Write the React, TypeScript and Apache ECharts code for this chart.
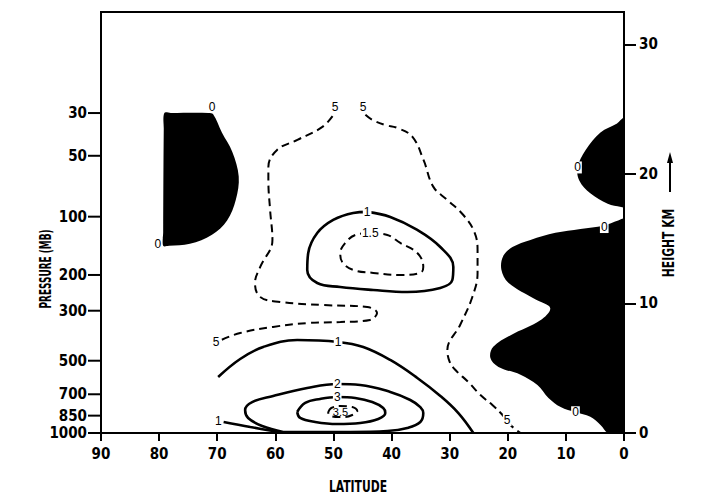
import React, { useEffect, useRef } from 'react';
import * as echarts from 'echarts';

// ---------- axis data ----------
const pressureLabels = ['30', '50', '100', '200', '300', '500', '700', '850', '1000'];
const pressureHeightsKm = [24.7, 21.4, 16.7, 12.2, 9.44, 5.58, 2.99, 1.34, 0];
const heightTicksKm = [0, 10, 20, 30];

// ---------- shaded (negative) regions: [latitude, height km] ----------
const shadeNorthStrat: number[][] = [
  [79.1, 24.7], [78.0, 24.7], [71.5, 24.7], [70.7, 24.6], [69.2, 23.2], [67.4, 21.7],
  [66.3, 19.8], [66.8, 18.0], [68.3, 16.4], [70.9, 15.3], [74.7, 14.6], [78.3, 14.45],
  [79.3, 14.45], [79.3, 15.5], [79.2, 23.5],
];
const shadeTropicStrat: number[][] = [
  [0, 24.3], [1.2, 23.9], [4.05, 23.2], [6.6, 21.85], [8.0, 20.5], [7.7, 19.5],
  [5.8, 18.5], [2.8, 17.7], [0.5, 17.45], [0, 17.45], [0, 21],
];
const shadeTropicTrop: number[][] = [
  [0, 16.5], [1.0, 16.4], [3.5, 16.0], [7.5, 15.75], [11.8, 15.45], [16.1, 14.9],
  [19.2, 14.35], [20.8, 13.65], [21.1, 12.6], [19.9, 11.6], [15.2, 10.3], [12.7, 9.65],
  [14.4, 8.7], [19.5, 7.55], [22.5, 6.65], [23.0, 5.8], [21.6, 5.1], [17.8, 4.5], [14.9, 3.7],
  [13.0, 2.7], [10.9, 2.0], [8.35, 1.6], [5.8, 1.25], [4.0, 0.6], [2.8, 0], [1.5, 0],
  [0, 0], [0, 8],
];

// ---------- contour lines: [latitude, height km] ----------
const contourHalfWest: number[][] = [
  [69.2, 7.2], [66.05, 7.72], [60.4, 8.19], [54.5, 8.49], [48.8, 8.57], [43.7, 8.73],
  [42.5, 9.27], [44.2, 9.73], [51.8, 9.88], [59.2, 10.12], [62.6, 10.5], [63.5, 11.58],
  [62.6, 12.82], [60.5, 14.9], [60.9, 17.22], [61.2, 19.5], [61.2, 20.54], [59.7, 21.85],
  [56.2, 22.63], [51.9, 23.63], [50.0, 24.56],
];
const contourHalfEast: number[][] = [
  [44.5, 24.56], [43.3, 24.17], [41.1, 23.78], [39.0, 23.55], [36.4, 22.86], [34.5, 21.08],
  [32.8, 19.0], [30.4, 17.99], [27.65, 16.83], [25.75, 15.52], [25.2, 14.13], [25.2, 12.36],
  [26.1, 10.5], [28.2, 8.34], [30.4, 6.41], [30.0, 5.5], [29.0, 4.86], [26.8, 3.94],
  [24.7, 2.93], [22.65, 2.16], [20.9, 1.39], [19.5, 0.6], [17.8, 0],
];
const contourOneUpper: number[][] = [
  [44.18, 17.07], [40.22, 16.68], [35.57, 15.68], [31.61, 14.36], [29.37, 12.82],
  [29.54, 11.81], [31.61, 11.2], [37.29, 10.89], [43.15, 11.04], [48.83, 11.27],
  [52.79, 11.58], [54.51, 12.59], [54.34, 13.9], [52.79, 15.44], [50.04, 16.45],
  [46.6, 16.99], [44.18, 17.07],
];
const contourOneFive: number[][] = [
  [43.66, 15.44], [40.73, 15.29], [38.5, 14.67], [35.57, 13.9], [34.54, 12.82], [35.05, 12.36],
  [38.5, 12.2], [43.15, 12.36], [46.6, 12.59], [48.49, 13.2], [48.83, 13.9], [47.97, 14.67],
  [46.24, 15.29], [43.66, 15.44],
];
const contourOneLower: number[][] = [
  [69.84, 4.32], [66.05, 5.71], [62.09, 6.64], [56.24, 7.18], [49.17, 7.03], [44.87, 6.64],
  [40.22, 5.64], [35.57, 4.25], [31.6, 2.86], [28.5, 1.54], [25.92, 0],
];
const contourOneSurface: number[][] = [
  [68.9, 0.85], [64.3, 0.46], [58.65, 0.02],
];
const contourTwo: number[][] = [
  [58.65, 0.08], [62.27, 0.54], [64.68, 1.16], [65.2, 1.78], [63.99, 2.39], [60.37, 2.86],
  [54.51, 3.47], [49.35, 3.78], [45.39, 3.71], [40.22, 3.17], [36.78, 2.55], [35.05, 2.0],
  [34.54, 1.54], [35.05, 0.85], [37.29, 0.39], [40.73, 0.15], [47.1, 0.08], [53.99, 0.08],
  [58.65, 0.08],
];
const contourThree: number[][] = [
  [56.24, 1.62], [54.86, 2.32], [52.28, 2.63], [49.35, 2.78], [46.25, 2.70], [43.32, 2.39],
  [41.43, 1.93], [41.08, 1.54], [42.29, 1.08], [45.39, 0.77], [49.35, 0.69], [53.14, 0.85],
  [55.72, 1.16], [56.24, 1.62],
];
const contourThreeFive: number[][] = [
  [50.9, 1.62], [50.38, 1.93], [48.83, 2.08], [46.76, 2.01], [45.9, 1.70], [46.76, 1.39],
  [47.97, 1.24], [49.69, 1.24], [50.73, 1.39], [50.9, 1.62],
];

// ---------- contour labels ----------
const lineLabelText = ['5', '5', '5', '5', '1', '1.5', '1', '1', '2', '3'];
const lineLabelPos: number[][] = [
  [49.7, 25.2], [44.9, 25.2], [70.2, 7.0], [20.1, 1.0], [44.2, 17.07], [43.66, 15.44],
  [49.2, 7.0], [69.8, 0.95], [49.35, 3.78], [49.35, 2.78],
];
const innerLabelText = ['3.5'];
const innerLabelPos: number[][] = [[48.8, 1.62]];
const zeroLabelText = ['0', '0', '0', '0', '0'];
const zeroLabelPos: number[][] = [
  [70.9, 25.2], [80.2, 14.6], [8.0, 20.5], [3.4, 15.9], [8.35, 1.6],
];

const AXIS_FONT = '"DejaVu Sans Condensed", "Liberation Sans Narrow", "Liberation Sans", sans-serif';
const LABEL_FONT = '"Liberation Sans", "DejaVu Sans", sans-serif';

export default function App() {
  const ref = useRef<HTMLDivElement>(null);
  useEffect(() => {
    const chart = echarts.init(ref.current!, null, { renderer: 'svg' });

    const shade = (pts: number[][]) => ({
      type: 'custom',
      xAxisIndex: 0,
      yAxisIndex: 0,
      clip: true,
      silent: true,
      z: 1,
      data: [[45, 10]],
      renderItem: (_p: any, api: any) => ({
        type: 'polygon',
        shape: { points: pts.map((p) => api.coord(p)), smooth: 0.35 },
        style: { fill: '#000', stroke: 'none' },
      }),
    });

    const contour = (pts: number[][], dashed: boolean) => ({
      type: 'line',
      xAxisIndex: 0,
      yAxisIndex: 0,
      data: pts,
      smooth: 0.4,
      symbol: 'none',
      silent: true,
      clip: true,
      z: 3,
      lineStyle: {
        color: '#000',
        width: dashed ? 2 : 2.6,
        type: dashed ? [8, 5] : 'solid',
      },
    });

    const labels = (texts: string[], pos: number[][], bg: boolean, size: number) => ({
      type: 'custom',
      xAxisIndex: 0,
      yAxisIndex: 0,
      silent: true,
      clip: false,
      z: 6,
      data: pos,
      renderItem: (params: any, api: any) => {
        const pt = api.coord([api.value(0), api.value(1)]);
        return {
          type: 'text',
          x: pt[0],
          y: pt[1],
          style: {
            text: texts[params.dataIndex],
            fill: '#000',
            stroke: 'none',
            lineWidth: 0,
            fontFamily: LABEL_FONT,
            fontSize: size,
            align: 'center',
            verticalAlign: 'middle',
            backgroundColor: bg ? '#fff' : undefined,
            padding: bg ? [0, 1, 0, 1] : 0,
          },
        };
      },
    });

    // pressure-axis ticks on the left edge (lat 90), drawn through the axis scale
    const pressureTicks = {
      type: 'custom',
      xAxisIndex: 0,
      yAxisIndex: 0,
      silent: true,
      clip: false,
      z: 7,
      data: pressureHeightsKm.map((h) => [90, h]),
      renderItem: (_params: any, api: any) => {
        const pt = api.coord([api.value(0), api.value(1)]);
        return {
          type: 'line',
          shape: { x1: pt[0] - 13, y1: pt[1], x2: pt[0], y2: pt[1] },
          style: { stroke: '#000', lineWidth: 2 },
        };
      },
    };

    const findPressure = (v: number) => {
      const i = pressureHeightsKm.findIndex((h) => Math.abs(h - v) < 1e-6);
      return i >= 0 ? pressureLabels[i] : '';
    };

    const axisLabelStyle = {
      color: '#000',
      fontFamily: AXIS_FONT,
      fontWeight: 'bold',
      fontSize: 15,
    };

    const titleStyle = (text: string, size: number) => ({
      text,
      fontFamily: AXIS_FONT,
      fontWeight: 'bold',
      fontSize: size,
      fill: '#000',
      align: 'center',
      verticalAlign: 'middle',
    });

    const option: any = {
      animation: false,
      backgroundColor: '#fff',
      grid: {
        left: 101,
        right: 84,
        top: 12,
        bottom: 62,
        show: true,
        borderColor: '#000',
        borderWidth: 2,
        backgroundColor: 'transparent',
      },
      xAxis: {
        type: 'value',
        min: 0,
        max: 90,
        interval: 10,
        inverse: true,
        axisLine: { show: true, lineStyle: { color: '#000', width: 2 } },
        axisTick: { show: true, length: 8, lineStyle: { color: '#000', width: 2 } },
        axisLabel: { ...axisLabelStyle, margin: 13 },
        splitLine: { show: false },
      },
      yAxis: [
        {
          type: 'value',
          min: 0,
          max: 32.5,
          position: 'left',
          axisLine: { show: true, lineStyle: { color: '#000', width: 2 } },
          axisTick: { show: false },
          axisLabel: {
            ...axisLabelStyle,
            customValues: pressureHeightsKm,
            formatter: (v: number) => findPressure(v),
            margin: 14,
          },
          splitLine: { show: false },
        },
        {
          type: 'value',
          min: 0,
          max: 32.5,
          position: 'right',
          axisLine: { show: true, lineStyle: { color: '#000', width: 2 } },
          axisTick: {
            show: true,
            customValues: heightTicksKm,
            length: 12,
            lineStyle: { color: '#000', width: 2 },
          },
          axisLabel: {
            ...axisLabelStyle,
            customValues: heightTicksKm,
            margin: 15,
          },
          splitLine: { show: false },
        },
      ],
      graphic: [
        {
          type: 'text',
          x: 46,
          y: 269,
          rotation: Math.PI / 2,
          scaleX: 0.62,
          style: titleStyle('PRESSURE (MB)', 16),
        },
        {
          type: 'text',
          x: 668,
          y: 243,
          rotation: Math.PI / 2,
          scaleX: 0.8,
          style: titleStyle('HEIGHT KM', 15),
        },
        {
          type: 'line',
          shape: { x1: 670, y1: 192, x2: 670, y2: 160 },
          style: { stroke: '#000', lineWidth: 2 },
        },
        {
          type: 'polygon',
          shape: { points: [[670, 152], [667, 163], [673, 163]] },
          style: { fill: '#000' },
        },
        {
          type: 'text',
          x: 358,
          y: 486,
          scaleX: 0.75,
          style: titleStyle('LATITUDE', 16),
        },
      ],
      series: [
        shade(shadeNorthStrat),
        shade(shadeTropicStrat),
        shade(shadeTropicTrop),
        contour(contourHalfWest, true),
        contour(contourHalfEast, true),
        contour(contourOneUpper, false),
        contour(contourOneFive, true),
        contour(contourOneLower, false),
        contour(contourOneSurface, false),
        contour(contourTwo, false),
        contour(contourThree, false),
        contour(contourThreeFive, true),
        labels(lineLabelText, lineLabelPos, true, 12),
        labels(innerLabelText, innerLabelPos, false, 11),
        labels(zeroLabelText, zeroLabelPos, true, 12),
        pressureTicks,
      ],
    };

    chart.setOption(option);
    return () => chart.dispose();
  }, []);

  return (
    <div
      ref={ref}
      style={{ position: 'fixed', left: 0, top: 0, width: 708, height: 495, background: '#fff' }}
    />
  );
}
